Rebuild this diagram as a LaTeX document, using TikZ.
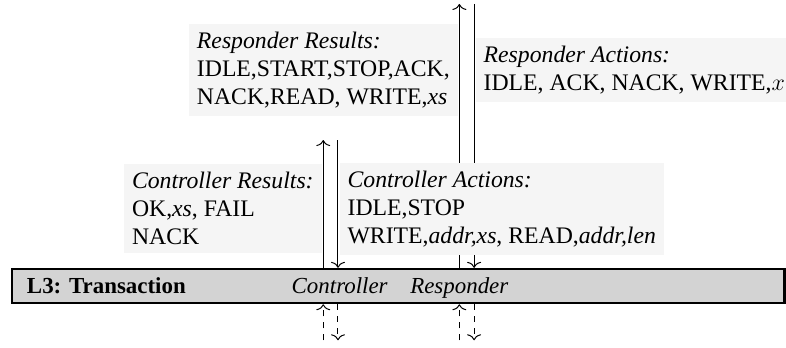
\documentclass[tikz,border=0pt]{standalone}
\usepackage{fontspec}
\setmainfont{Liberation Serif}
\usetikzlibrary{positioning, arrows.meta}
\definecolor{layergray}{RGB}{211,211,211}
\definecolor{notegray}{RGB}{245,245,245}
\tikzset{
	>={To[length=3pt, width=7pt]},
	note/.style={fill=notegray, align=left, inner sep=4pt, font=\fontsize{11.9}{14}\selectfont},
	layerbox/.style={draw, line width=1.2pt, fill=layergray, inner sep=0pt},
}
\begin{document}
\begin{tikzpicture}[font=\fontsize{11.5}{14}\selectfont, line width=0.5pt]
		\useasboundingbox (0, 0) rectangle (13.86, 6.12);

		\node[layerbox, minimum width=13.62cm, minimum height=0.6cm] (layer) at (7.02, 1.076) {};
		\node[anchor=base west, font=\fontsize{11.5}{14}\selectfont\bfseries] (name) at (0.35, 0.95) {L3: Transaction};
		\node[anchor=base] (ctrl) at (5.99, 0.95) {\textit{Controller}};
		\node[anchor=base] (resp) at (8.10, 0.95) {\textit{Responder}};

		\coordinate (cu) at (5.70, 3.65);
		\coordinate (cd) at (5.96, 3.65);
		\coordinate (ru) at (8.10, 6.05);
		\coordinate (rd) at (8.36, 6.05);
		\coordinate (cub) at (5.70, 0.12);
		\coordinate (cdb) at (5.96, 0.12);
		\coordinate (rub) at (8.10, 0.12);
		\coordinate (rdb) at (8.36, 0.12);

		\draw[->] (layer.north -| cu) -- (cu);
		\draw[->] (cd) -- (layer.north -| cd);
		\draw[->] (layer.north -| ru) -- (ru);
		\draw[->] (rd) -- (layer.north -| rd);
		\draw[->, dashed] (cub) -- (layer.south -| cub);
		\draw[->, dashed] (layer.south -| cdb) -- (cdb);
		\draw[->, dashed] (rub) -- (layer.south -| rub);
		\draw[->, dashed] (layer.south -| rdb) -- (rdb);

		\node[note, anchor=east] (rres) at (8.08, 4.89) {\textit{Responder Results:}\\IDLE,START,STOP,ACK,\\NACK,READ, WRITE,\textit{xs}};
		\node[note, anchor=west] (ract) at (8.38, 4.89) {\textit{Responder Actions:}\\IDLE, ACK, NACK, WRITE,$x$};
		\node[note, anchor=east] (cres) at (5.68, 2.44) {\textit{Controller Results:}\\OK,\textit{xs}, FAIL\\NACK};
		\node[note, anchor=west] (cact) at (5.98, 2.44) {\textit{Controller Actions:}\\IDLE,STOP\\WRITE,\textit{addr,xs}, READ,\textit{addr,len}};

	\end{tikzpicture}
\end{document}
